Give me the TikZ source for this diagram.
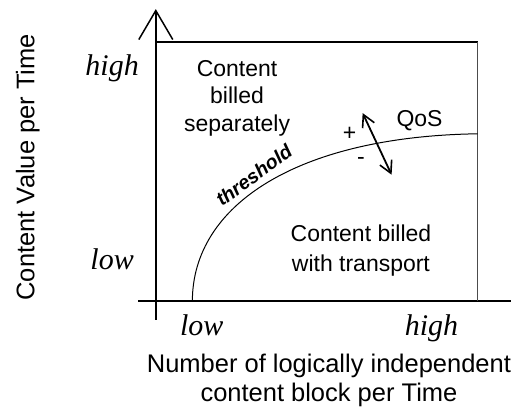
\documentclass[tikz,border=0pt]{standalone}
\usepackage{fontspec}
\setmainfont{Liberation Serif}
\setsansfont{Liberation Sans}
\usetikzlibrary{arrows.meta}

\begin{document}
\begin{tikzpicture}[every node/.style={font=\sffamily\fontsize{11.5}{15}\selectfont, inner sep=0pt},
    axislabel/.style={font=\rmfamily\itshape\fontsize{15}{18}\selectfont, anchor=base},
    axistitle/.style={font=\sffamily\fontsize{12.75}{14.4}\selectfont, align=center}]
    \useasboundingbox (-2.74, -1.97) rectangle (6.37, 5.30);

    % axes
    \coordinate (ybot) at (0, -0.32);
    \coordinate (ytop) at (0, 5.14);
    \coordinate (xleft) at (-0.31, 0);
    \coordinate (xright) at (6.24, 0);
    \draw[line width=1pt, -{Straight Barb[length=14.5pt, width=17pt, line width=0.75pt]}] (ybot) -- (ytop);
    \draw[line width=1pt] (xleft) -- (xright);

    % frame
    \coordinate (tl) at (0, 4.56);
    \coordinate (tr) at (5.66, 4.56);
    \coordinate (br) at (5.66, 0);
    \draw[line width=1pt] (tl) -- (tr);
    \draw[gray!60!black, line width=0.5pt] (tr) -- (br);

    % threshold curve
    \coordinate (cstart) at (0.643, 0);
    \coordinate (cend) at (5.66, 2.947);
    \draw[line width=0.5pt] (cstart) .. controls (0.643, 1.7) and (2.5, 2.9) .. (cend);
    \node[font=\sffamily\bfseries\itshape\fontsize{9.75}{12}\selectfont, rotate=36] (thr) at (1.725, 2.22) {threshold};

    % QoS shift
    \coordinate (qup) at (3.638, 3.311);
    \coordinate (qdown) at (4.147, 2.227);
    \draw[line width=0.9pt, {Straight Barb[length=6pt, width=6.5pt, line width=0.8pt]}-{Straight Barb[length=6pt, width=6.5pt, line width=0.8pt]}] (qup) -- (qdown);
    \node (plus) at (3.406, 2.938) {+};
    \node (minus) at (3.608, 2.46) {-};
    \node[anchor=base] (qos) at (4.639, 3.075) {QoS};

    % regions
    \node[align=center, font=\sffamily\fontsize{11.5}{13.75}\selectfont] (sep) at (1.429, 3.576) {Content\\billed\\separately};
    \node[align=center] (trans) at (3.608, 0.896) {Content billed\\with transport};

    % axis labels
    \node[axislabel] (yhigh) at (-0.768, 3.966) {high};
    \node[axislabel] (ylow) at (-0.768, 0.557) {low};
    \node[axislabel] (xlow) at (0.808, -0.603) {low};
    \node[axislabel] (xhigh) at (4.850, -0.603) {high};
    \node[axistitle] (xtitle) at (3.045, -1.39) {Number of logically independent\\content block per Time};
    \node[axistitle, rotate=90] (ytitle) at (-2.253, 2.358) {Content Value per Time};
\end{tikzpicture}
\end{document}
